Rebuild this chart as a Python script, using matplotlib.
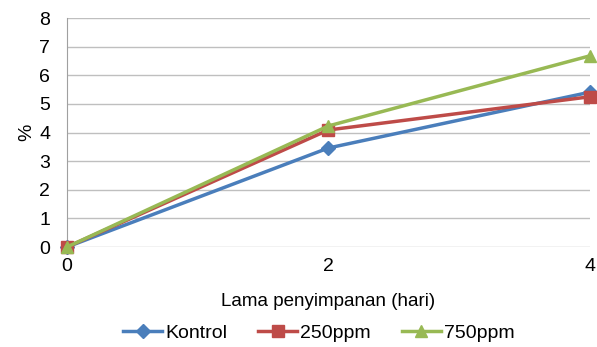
import matplotlib.pyplot as plt

plt.rcParams['font.family'] = ['Liberation Sans', 'DejaVu Sans']

days = [0, 2, 4]
kontrol = [0, 3.46, 5.41]
ppm250 = [0, 4.09, 5.25]
ppm750 = [0, 4.23, 6.68]

fig = plt.figure(figsize=(5.97, 3.47), dpi=100)
ax = fig.add_axes([0.112, 0.288, 0.876, 0.66])

ax.plot(days, kontrol, color='#4A7EBB', lw=2.5, marker='D', ms=7, label='Kontrol', clip_on=False, zorder=3)
ax.plot(days, ppm250, color='#BE4B48', lw=2.5, marker='s', ms=9, label='250ppm', clip_on=False, zorder=4)
ax.plot(days, ppm750, color='#98B954', lw=2.5, marker='^', ms=9, label='750ppm', clip_on=False, zorder=5)

ax.set_xlim(0, 4)
ax.set_ylim(0, 8)
ax.set_xticks(days)
ax.set_yticks(range(0, 9))
ax.yaxis.grid(True, color='#BFBFBF', lw=1)
ax.set_axisbelow(True)
for s in ['top', 'right', 'bottom']:
    ax.spines[s].set_visible(False)
ax.spines['left'].set_color('#A0A0A0')
ax.tick_params(axis='y', length=0, labelsize=14, pad=12)
ax.tick_params(axis='x', length=0, labelsize=14, pad=8)

ax.set_ylabel('%', fontsize=14, labelpad=3)
ax.set_xlabel('Lama penyimpanan (hari)', fontsize=13.5, labelpad=13)

fig.legend(loc='center', bbox_to_anchor=(0.534, 0.04), ncol=3, frameon=False,
           fontsize=14, handlelength=2.0, columnspacing=1.6, handletextpad=0.15)

fig.savefig('out.png', dpi=100)
